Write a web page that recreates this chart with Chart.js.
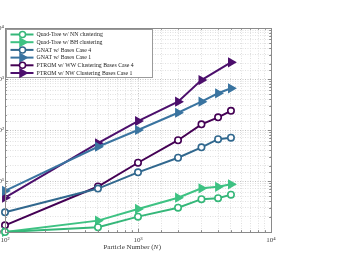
<!DOCTYPE html>
<html>
<head>
<meta charset="utf-8">
<script src="https://cdn.jsdelivr.net/npm/chart.js@4.4.0/dist/chart.umd.min.js"></script>
<style>
  html, body { margin: 0; padding: 0; background: #fff; overflow: hidden; }
  #wrap { position: relative; width: 357px; height: 272px; overflow: hidden; }
  #chart { position: absolute; left: -30px; top: 0; }
</style>
</head>
<body>
<div id="wrap"><canvas id="chart" width="387" height="272"></canvas></div>
<script>
// Data (log-log)
const particleCounts = [100, 500, 1000, 2000, 3000, 4000, 5000];
const quadTreeNN = [1.0, 1.24, 2.0, 3.0, 4.4, 4.6, 5.4];
const quadTreeBH = [1.0, 1.67, 2.83, 4.7, 7.2, 7.7, 8.6];
const gnatCase4 = [2.43, 7.1, 14.8, 28.6, 45.8, 66, 70.6];
const gnatCase1 = [6.4, 47, 100, 218, 359, 525, 658];
const ptromCase4 = [1.35, 7.8, 22.8, 63, 129, 177, 238];
const ptromCase1 = [4.7, 55, 150, 359, 955, null, 2125];

const seriesLabels = [
    'Quad-Tree w/ NN clustering',
    'Quad-Tree w/ BH clustering',
    'GNAT w/ Bases Case 4',
    'GNAT w/ Bases Case 1',
    'PTROM w/ WW Clustering Bases Case 4',
    'PTROM w/ NW Clustering Bases Case 1'
];
const seriesColors = ['#35b779', '#3ec283', '#31688e', '#3a74a0', '#440154', '#4c0f6c'];
const seriesMarkers = ['circle', 'triangle', 'circle', 'triangle', 'circle', 'triangle'];
const xTickExponents = [2, 3, 4];
const yTickExponents = [0, 1, 2, 3, 4];

const SERIF = '"Liberation Serif", "DejaVu Serif", serif';
const SUP = { '0': '\u2070', '1': '\u00b9', '2': '\u00b2', '3': '\u00b3', '4': '\u2074' };

function isDecade(v) {
    const e = Math.log10(v);
    return Math.abs(e - Math.round(e)) < 1e-9;
}

function decadeLabel(v, exps) {
    if (!isDecade(v)) return '';
    const e = Math.round(Math.log10(v));
    return exps.includes(e) ? '10' + SUP[String(e)] : '';
}

function makeDataset(i, values) {
    const tri = seriesMarkers[i] === 'triangle';
    return {
        label: seriesLabels[i],
        data: values.map((v, k) => ({ x: particleCounts[k], y: v })),
        borderColor: seriesColors[i],
        backgroundColor: seriesColors[i],
        borderWidth: 2,
        pointStyle: tri ? 'triangle' : 'circle',
        pointRotation: tri ? 90 : 0,
        pointRadius: tri ? 4.3 : 3.2,
        pointBorderWidth: 1.6,
        pointBackgroundColor: tri ? seriesColors[i] : '#ffffff',
        pointBorderColor: seriesColors[i],
        spanGaps: true,
        clip: false,
        tension: 0
    };
}

function drawMarker(ctx, style, color, x, y) {
    ctx.save();
    ctx.strokeStyle = color;
    ctx.fillStyle = color;
    ctx.lineWidth = 1.5;
    if (style === 'circle') {
        ctx.fillStyle = '#ffffff';
        ctx.beginPath();
        ctx.arc(x, y, 3, 0, Math.PI * 2);
        ctx.fill();
        ctx.stroke();
    } else {
        ctx.beginPath();
        ctx.moveTo(x + 4.5, y);
        ctx.lineTo(x - 2.5, y - 4);
        ctx.lineTo(x - 2.5, y + 4);
        ctx.closePath();
        ctx.fill();
        ctx.stroke();
    }
    ctx.restore();
}

// box, inward ticks, legend and x title
const decorPlugin = {
    id: 'decor',
    afterDraw(chart) {
        const ctx = chart.ctx;
        const a = chart.chartArea;
        const xs = chart.scales.x;
        const ys = chart.scales.y;

        ctx.save();
        ctx.strokeStyle = '#8a8a8a';
        ctx.lineWidth = 1;
        xs.ticks.forEach(t => {
            const px = Math.round(xs.getPixelForValue(t.value)) + 0.5;
            const len = isDecade(t.value) ? 3 : 1.8;
            ctx.beginPath();
            ctx.moveTo(px, a.bottom); ctx.lineTo(px, a.bottom - len);
            ctx.moveTo(px, a.top); ctx.lineTo(px, a.top + len);
            ctx.stroke();
        });
        ys.ticks.forEach(t => {
            const py = Math.round(ys.getPixelForValue(t.value)) + 0.5;
            const len = isDecade(t.value) ? 3 : 1.8;
            ctx.beginPath();
            ctx.moveTo(a.left, py); ctx.lineTo(a.left + len, py);
            ctx.moveTo(a.right, py); ctx.lineTo(a.right - len, py);
            ctx.stroke();
        });
        ctx.strokeRect(Math.round(a.left) + 0.5, Math.round(a.top) + 0.5,
            Math.round(a.right - a.left), Math.round(a.bottom - a.top));

        // legend
        const lx = a.left + 1.5, ly = a.top + 1.5, lw = 146, lh = 48;
        ctx.fillStyle = '#ffffff';
        ctx.fillRect(lx, ly, lw, lh);
        ctx.strokeStyle = '#9a9a9a';
        ctx.strokeRect(lx, ly, lw, lh);
        ctx.font = '5.8px ' + SERIF;
        ctx.textBaseline = 'middle';
        chart.data.datasets.forEach((ds, i) => {
            const y = ly + 5 + i * 7.7;
            ctx.strokeStyle = ds.borderColor;
            ctx.lineWidth = 2;
            ctx.beginPath();
            ctx.moveTo(lx + 4, y); ctx.lineTo(lx + 27, y);
            ctx.stroke();
            drawMarker(ctx, seriesMarkers[i], ds.borderColor, lx + 16, y);
            ctx.fillStyle = '#222222';
            ctx.fillText(ds.label, lx + 30, y + 0.3);
        });

        // x axis title with italic N
        const tx = (a.left + a.right) / 2 - 6, ty = 247;
        const partA = 'Particle Number (', partN = 'N', partB = ')';
        ctx.font = '7px ' + SERIF;
        const wA = ctx.measureText(partA).width;
        const wB = ctx.measureText(partB).width;
        ctx.font = 'italic 7px ' + SERIF;
        const wN = ctx.measureText(partN).width;
        let x0 = tx - (wA + wN + wB) / 2;
        ctx.fillStyle = '#333333';
        ctx.textBaseline = 'middle';
        ctx.font = '7px ' + SERIF;
        ctx.fillText(partA, x0, ty);
        ctx.font = 'italic 7px ' + SERIF;
        ctx.fillText(partN, x0 + wA, ty);
        ctx.font = '7px ' + SERIF;
        ctx.fillText(partB, x0 + wA + wN + 0.5, ty);
        ctx.restore();
    }
};

const gridColor = (c) => (c.tick && isDecade(c.tick.value)) ? '#c2c2c2' : '#e0e0e0';

const ctx = document.getElementById('chart').getContext('2d');
const chart = new Chart(ctx, {
    type: 'line',
    data: {
        datasets: [
            makeDataset(0, quadTreeNN),
            makeDataset(1, quadTreeBH),
            makeDataset(2, gnatCase4),
            makeDataset(3, gnatCase1),
            makeDataset(4, ptromCase4),
            makeDataset(5, ptromCase1)
        ]
    },
    options: {
        responsive: false,
        animation: false,
        devicePixelRatio: 1,
        layout: { padding: { top: 28, right: 86, bottom: 0, left: 0 } },
        plugins: {
            legend: { display: false },
            tooltip: { enabled: false }
        },
        scales: {
            x: {
                type: 'logarithmic',
                min: 100,
                max: 10000,
                afterFit: (s) => { s.height = 40; },
                grid: { color: gridColor, lineWidth: 1, drawTicks: false },
                border: { display: false, dash: [1, 1.5] },
                ticks: {
                    autoSkip: false,
                    maxRotation: 0,
                    padding: 4,
                    color: '#444444',
                    font: { family: SERIF, size: 7 },
                    callback: (v) => decadeLabel(v, xTickExponents)
                }
            },
            y: {
                type: 'logarithmic',
                min: 1,
                max: 10000,
                afterFit: (s) => { s.width = 35; },
                grid: { color: gridColor, lineWidth: 1, drawTicks: false },
                border: { display: false, dash: [1, 1.5] },
                ticks: {
                    autoSkip: false,
                    padding: 1,
                    color: '#444444',
                    font: { family: SERIF, size: 7 },
                    callback: (v) => decadeLabel(v, yTickExponents)
                }
            }
        }
    },
    plugins: [decorPlugin]
});
</script>
</body>
</html>
